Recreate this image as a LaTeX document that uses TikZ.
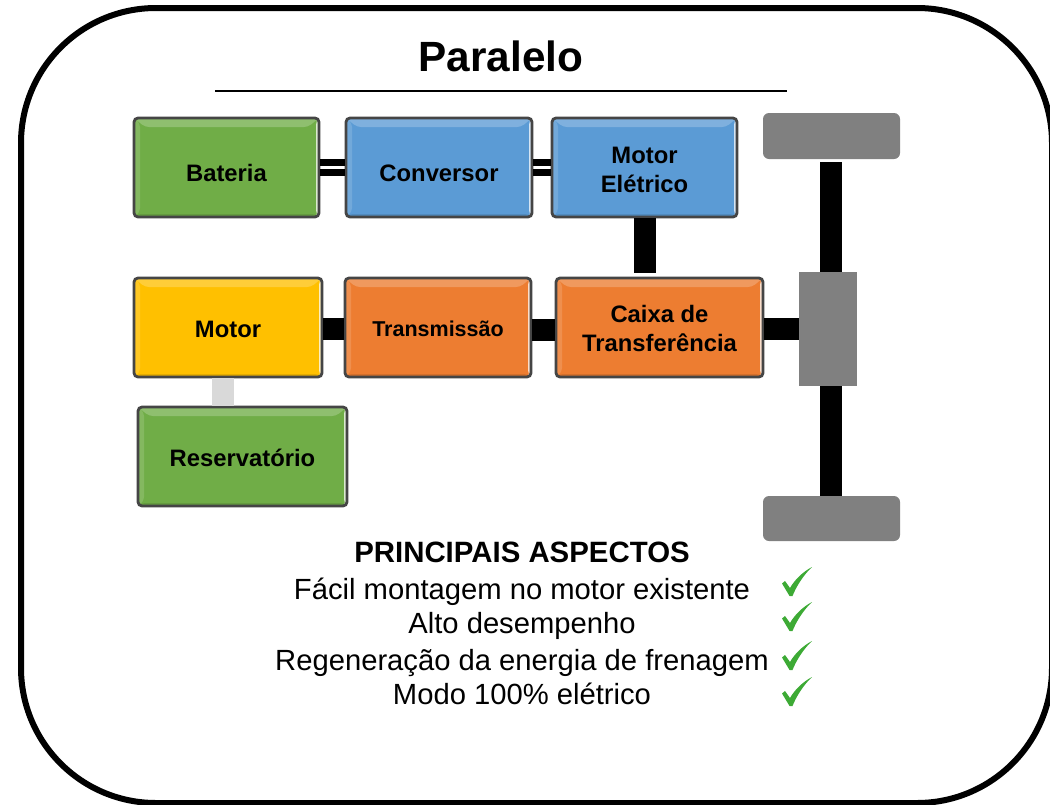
\documentclass[tikz,border=0pt]{standalone}
\usepackage{fontspec}
\setmainfont{Liberation Sans}
\usetikzlibrary{calc}
\definecolor{cgreen}{HTML}{70AD47}
\definecolor{cblue}{HTML}{5B9BD5}
\definecolor{corange}{HTML}{ED7D31}
\definecolor{cyellow}{HTML}{FFC000}
\definecolor{cgray}{HTML}{808080}
\definecolor{clight}{HTML}{D9D9D9}
\definecolor{cedge}{HTML}{454545}
\definecolor{ccheck}{HTML}{3DAA35}
\tikzset{
  x=1pt,y=-1pt,
  bevelbox/.style={draw=cedge,line width=2.8pt,rounded corners=4pt,fill=#1,font=\bfseries\fontsize{23.8}{29}\selectfont,
    align=center,inner sep=0pt,text=black,
    path picture={
      \coordinate (NW) at (path picture bounding box.north west);
      \coordinate (SE) at (path picture bounding box.south east);
      \fill[white,opacity=.22] (NW) -- (NW-|SE) -- ($(NW-|SE)+(-11,9)$) -- ($(NW)+(11,9)$) -- cycle;
      \fill[white,opacity=.14] (NW) -- (NW|-SE) -- ($(NW|-SE)+(6,-5)$) -- ($(NW)+(6,5)$) -- cycle;
      \fill[white,opacity=.75] (NW-|SE) -- (SE) -- ($(SE)+(-3,-3)$) -- ($(NW-|SE)+(-3,3)$) -- cycle;
      \fill[black,opacity=.10] (NW|-SE) -- (SE) -- ($(SE)+(-3,-3)$) -- ($(NW|-SE)+(3,-3)$) -- cycle;
    }},
  wheelbox/.style={fill=cgray,rounded corners=6pt,inner sep=0pt},
  hubbox/.style={fill=cgray,inner sep=0pt},
  shaft/.style={line width=22pt,black},
  thinshaft/.style={line width=7pt,black},
  fuelshaft/.style={line width=22pt,clight},
  frame/.style={draw=black,line width=6pt,rounded corners=135pt},
  rulex/.style={draw=black,line width=1.5pt},
  titletext/.style={font=\bfseries\fontsize{42.3}{46}\selectfont,inner sep=0pt,anchor=base},
  headtext/.style={font=\bfseries\fontsize{29.4}{32}\selectfont,inner sep=0pt,anchor=base},
  itemtext/.style={font=\fontsize{29.2}{32}\selectfont,inner sep=0pt,anchor=base},
  checkm/.style={fill=ccheck,draw=none},
}
\newcommand{\boxat}[7]{\node[bevelbox=#2,minimum width=#5-#3,minimum height=#6-#4] (#1) at ({(#3+#5)/2},{(#4+#6)/2}) {#7};}
\newcommand{\pad}[1]{\rule{0pt}{#1pt}}
\newcommand{\chk}[3]{\node[inner sep=0pt,minimum size=1pt] (#1) at (#2,#3) {};
  \begin{scope}[shift={(#2,#3)}]
  \fill[checkm] (1,0) -- (-6.5,-12.5) -- (-3.5,-15) -- (1.5,-8)
     .. controls (6,-16) and (14,-24) .. (23.5,-29)
     .. controls (15,-21) and (8,-10) .. (4,0) -- cycle;
  \end{scope}}
\begin{document}
\begin{tikzpicture}
\useasboundingbox (0,0) rectangle (1050,804);
% frame
\draw[frame] (21,8) rectangle (1052,803);
% title
\node[titletext] (title) at (501,71) {Paralelo};
\coordinate (ruleL) at (215,91);
\coordinate (ruleR) at (787,91);
\draw[rulex] (ruleL) -- (ruleR);
% chassis
\node[wheelbox,minimum width=137pt,minimum height=46pt] (wheelT) at (831.5,136) {};
\node[wheelbox,minimum width=137pt,minimum height=45pt] (wheelB) at (831.5,518.5) {};
\node[hubbox,minimum width=58pt,minimum height=114pt] (hub) at (828,329) {};
\coordinate (axleT) at (831,162);
\draw[shaft] (axleT) -- (axleT|-hub.north);
\coordinate (axleB) at (831,496);
\draw[shaft] (axleB|-hub.south) -- (axleB);
% boxes
\boxat{bat}{cgreen}{134}{118}{319}{217}{\pad{28}Bateria}
\boxat{conv}{cblue}{346}{118}{532}{217}{\pad{28}Conversor}
\boxat{mot}{cblue}{552}{118}{737}{217}{\pad{21}Motor\\Elétrico}
\boxat{eng}{cyellow}{134}{278}{322}{377}{\pad{21}Motor}
\boxat{trans}{corange}{345}{278}{531}{377}{\fontsize{21.5}{24}\selectfont\pad{18}Transmissão}
\boxat{caixa}{corange}{556}{278}{763}{377}{\pad{19}Caixa de\\Transferência}
\boxat{res}{cgreen}{138}{407}{347}{506}{\pad{21}Reservatório}
% connectors
\draw[thinshaft] ([yshift=-5pt]bat.east) -- ([yshift=-5pt]conv.west);
\draw[thinshaft] ([yshift=5pt]bat.east) -- ([yshift=5pt]conv.west);
\draw[thinshaft] ([yshift=-5pt]conv.east) -- ([yshift=-5pt]mot.west);
\draw[thinshaft] ([yshift=5pt]conv.east) -- ([yshift=5pt]mot.west);
\draw[shaft] ([yshift=-1pt]eng.east) -- ([yshift=-1pt]trans.west);
\draw[shaft] ([yshift=-2pt]trans.east) -- ([yshift=-2pt]caixa.west);
\draw[shaft] ([yshift=-1.5pt]caixa.east) -- ([yshift=-1.5pt]caixa.east-|hub.west);
\coordinate (motDown) at ($(mot.south)+(0.5,0)$);
\coordinate (motEnd) at (645,273);
\draw[shaft] (motDown) -- (motEnd);
\coordinate (engDown) at ($(eng.south)+(-5,0)$);
\draw[fuelshaft] (engDown) -- (engDown|-res.north);
% text
\node[headtext] (head) at (522,562) {PRINCIPAIS ASPECTOS};
\node[itemtext] (i1) at (522,599) {Fácil montagem no motor existente};
\node[itemtext] (i2) at (522,633) {Alto desempenho};
\node[itemtext] (i3) at (522,670) {Regeneração da energia de frenagem};
\node[itemtext] (i4) at (522,704) {Modo 100\% elétrico};
\chk{c1}{788.5}{596}
\chk{c2}{788.5}{631}
\chk{c3}{788.5}{670}
\chk{c4}{788.5}{706}
\end{tikzpicture}
\end{document}
